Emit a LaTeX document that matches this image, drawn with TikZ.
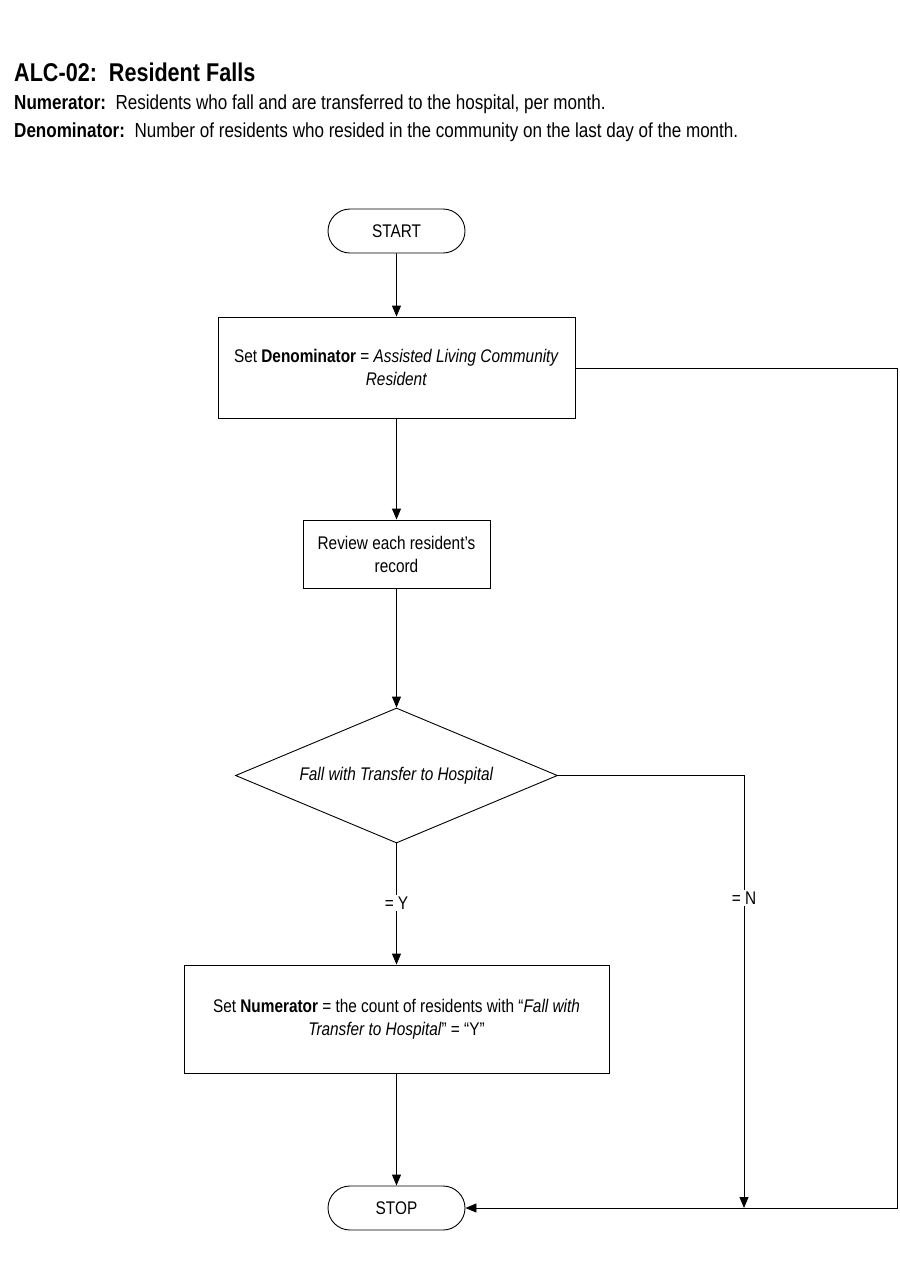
\documentclass[tikz,border=0pt]{standalone}
\usepackage{fontspec}
\setmainfont{Liberation Sans}[FakeStretch=0.84]
\usetikzlibrary{arrows.meta,shapes.geometric,shapes.misc}
\tikzset{
  box/.style={draw=black, line width=0.9pt, fill=white, align=center, inner sep=0pt,
    font=\fontsize{18.3}{23}\selectfont},
  term/.style={box, rounded rectangle, minimum width=137pt, minimum height=44pt},
  dec/.style={box, diamond, aspect=2.385, minimum width=322pt, minimum height=135pt},
  arr/.style={draw=black, line width=0.9pt, -{Triangle[length=11pt,width=9pt]}},
  lab/.style={fill=white, inner sep=2pt, font=\fontsize{18.3}{23}\selectfont},
  head/.style={anchor=base west, inner sep=0pt, font=\fontsize{20.3}{24}\selectfont}
}
\begin{document}
\begin{tikzpicture}[x=1pt,y=-1pt]
\useasboundingbox (0,0) rectangle (900,1286);
\node[head, font=\fontsize{25.7}{30}\selectfont\bfseries] (title) at (14,81) {ALC-02:\ \ Resident Falls};
\node[head] (numl) at (14,109) {\textbf{Numerator:}\ \ Residents who fall and are transferred to the hospital, per month.};
\node[head] (denl) at (14,137) {\textbf{Denominator:}\ \ Number of residents who resided in the community on the last day of the month.};

\node[term] (start) at (396.5,231) {START};
\node[box, minimum width=357pt, minimum height=101pt] (den) at (396.5,367.5)
  {Set \textbf{Denominator} = \textit{Assisted Living Community}\\\textit{Resident}};
\node[box, minimum width=187pt, minimum height=68pt] (rev) at (396.5,554)
  {Review each resident’s\\record};
\node[dec] (dia) at (396.5,775.5) {\textit{Fall with Transfer to Hospital}};
\node[box, minimum width=425pt, minimum height=108pt] (num) at (396.5,1019)
  {Set \textbf{Numerator} = the count of residents with “\textit{Fall with}\\\textit{Transfer to Hospital}” = “Y”};
\node[term] (stop) at (396.5,1208) {STOP};

\coordinate (rx) at (897,0);
\coordinate (nx) at (744,0);

\draw[arr] (start) -- (den);
\draw[arr] (den) -- (rev);
\draw[arr] (rev) -- (dia);
\draw[arr] (dia) -- (num);
\draw[arr] (num) -- (stop);
\draw[arr] (den.east |- 0,368) -- (rx |- 0,368) -- (rx |- stop.east) -- (stop.east);
\draw[arr] (dia.east) -- (nx |- dia.east) -- (nx |- stop.east);

\node[lab] (ylab) at (396.5,903) {= Y};
\node[lab] (nlab) at (744,898) {= N};
\end{tikzpicture}
\end{document}
